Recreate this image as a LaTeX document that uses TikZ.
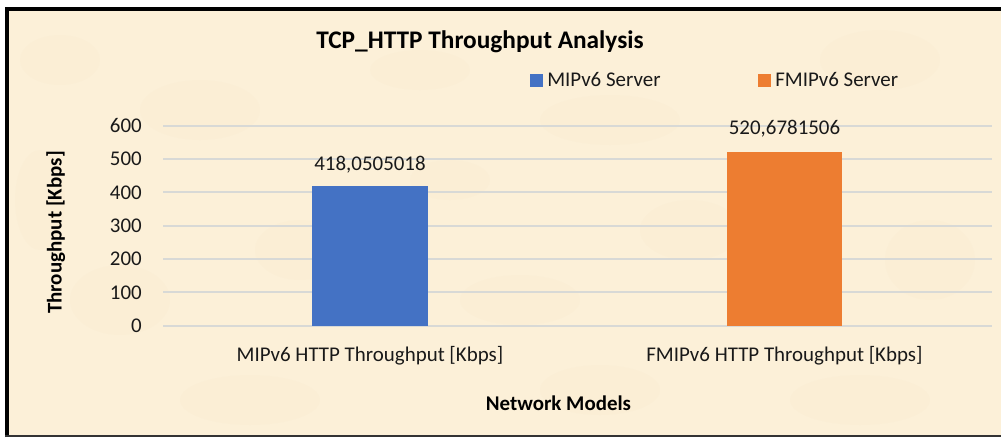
\documentclass[tikz,border=0pt]{standalone}
\usepackage{fontspec}
\setmainfont{Carlito}
\definecolor{bg}{HTML}{FCF0D8}
\definecolor{blotch}{HTML}{F3E2BE}
\definecolor{gridc}{HTML}{D8D9D6}
\definecolor{mblue}{HTML}{4472C4}
\definecolor{morange}{HTML}{ED7D31}
\begin{document}
\begin{tikzpicture}[x=0.75pt,y=-0.75pt,
  txt/.style={font=\fontsize{15.7}{18}\selectfont, inner sep=0pt, text=black!90},
  boldtxt/.style={font=\fontsize{15.7}{18}\selectfont\bfseries, inner sep=0pt},
  gridline/.style={draw=gridc, line width=1.5pt},
  barbox/.style={inner sep=0pt, outer sep=0pt, anchor=south, draw=none},
  legbox/.style={inner sep=0pt, minimum size=9.75pt, draw=none}]
\useasboundingbox (0,0) rectangle (1001,437);
\fill[white] (0,0) rectangle (1001,437);
\fill[bg] (5,7) rectangle (1001,437);
% parchment blotches
\foreach \cx/\cy/\rx/\ry in {60/60/40/25, 200/110/60/30, 420/70/50/20, 610/120/70/25, 880/60/60/30,
  120/300/50/35, 300/250/45/30, 520/300/60/25, 690/230/50/30, 930/260/45/40,
  250/400/70/25, 600/390/60/25, 860/400/70/25, 40/200/25/50, 450/180/40/20}
  \fill[blotch, opacity=0.1] (\cx,\cy) ellipse [x radius=\rx*0.75pt, y radius=\ry*0.75pt];
% frame
\draw[line width=3pt] (7,437) -- (7,9) -- (1001,9);
\draw[line width=1.5pt, black!80] (5,436) -- (1001,436);
% gridlines and tick labels
\foreach \v in {0,...,6} {
  \pgfmathsetmacro{\yy}{325.7-33.33*\v}
  \pgfmathtruncatemacro{\lab}{100*\v}
  \draw[gridline] (163,\yy) -- (992,\yy);
  \node[txt, anchor=east] (tick\v) at (142,\yy) {\lab};
}
% bars
\node[barbox, fill=mblue, minimum width=87pt, minimum height=104.5pt] (bar1) at (370,325.7) {};
\node[barbox, fill=morange, minimum width=86.25pt, minimum height=130pt] (bar2) at (784.5,325.7) {};
% value labels
\node[txt, anchor=base] (val1) at (370,170) {418,0505018};
\node[txt, anchor=base] (val2) at (784.5,134.3) {520,6781506};
% title
\node[boldtxt, font=\fontsize{19}{22}\selectfont\bfseries, anchor=base] (title) at (480,48.3) {TCP\_HTTP Throughput Analysis};
% legend
\node[legbox, fill=mblue] (leg1) at (536.5,80) {};
\node[txt, anchor=base west] (leg1t) at (547,86.7) {MIPv6 Server};
\node[legbox, fill=morange] (leg2) at (764.5,80) {};
\node[txt, anchor=base west] (leg2t) at (775,86.7) {FMIPv6 Server};
% category labels
\node[txt, anchor=base] (cat1) at (370,361.7) {MIPv6 HTTP Throughput [Kbps]};
\node[txt, anchor=base] (cat2) at (784.5,361.7) {FMIPv6 HTTP Throughput [Kbps]};
% axis titles
\node[boldtxt, anchor=base] (xtitle) at (558.5,410) {Network Models};
\node[boldtxt, anchor=base, rotate=90] (ytitle) at (61.7,232.5) {Throughput [Kbps]};
\end{tikzpicture}
\end{document}
